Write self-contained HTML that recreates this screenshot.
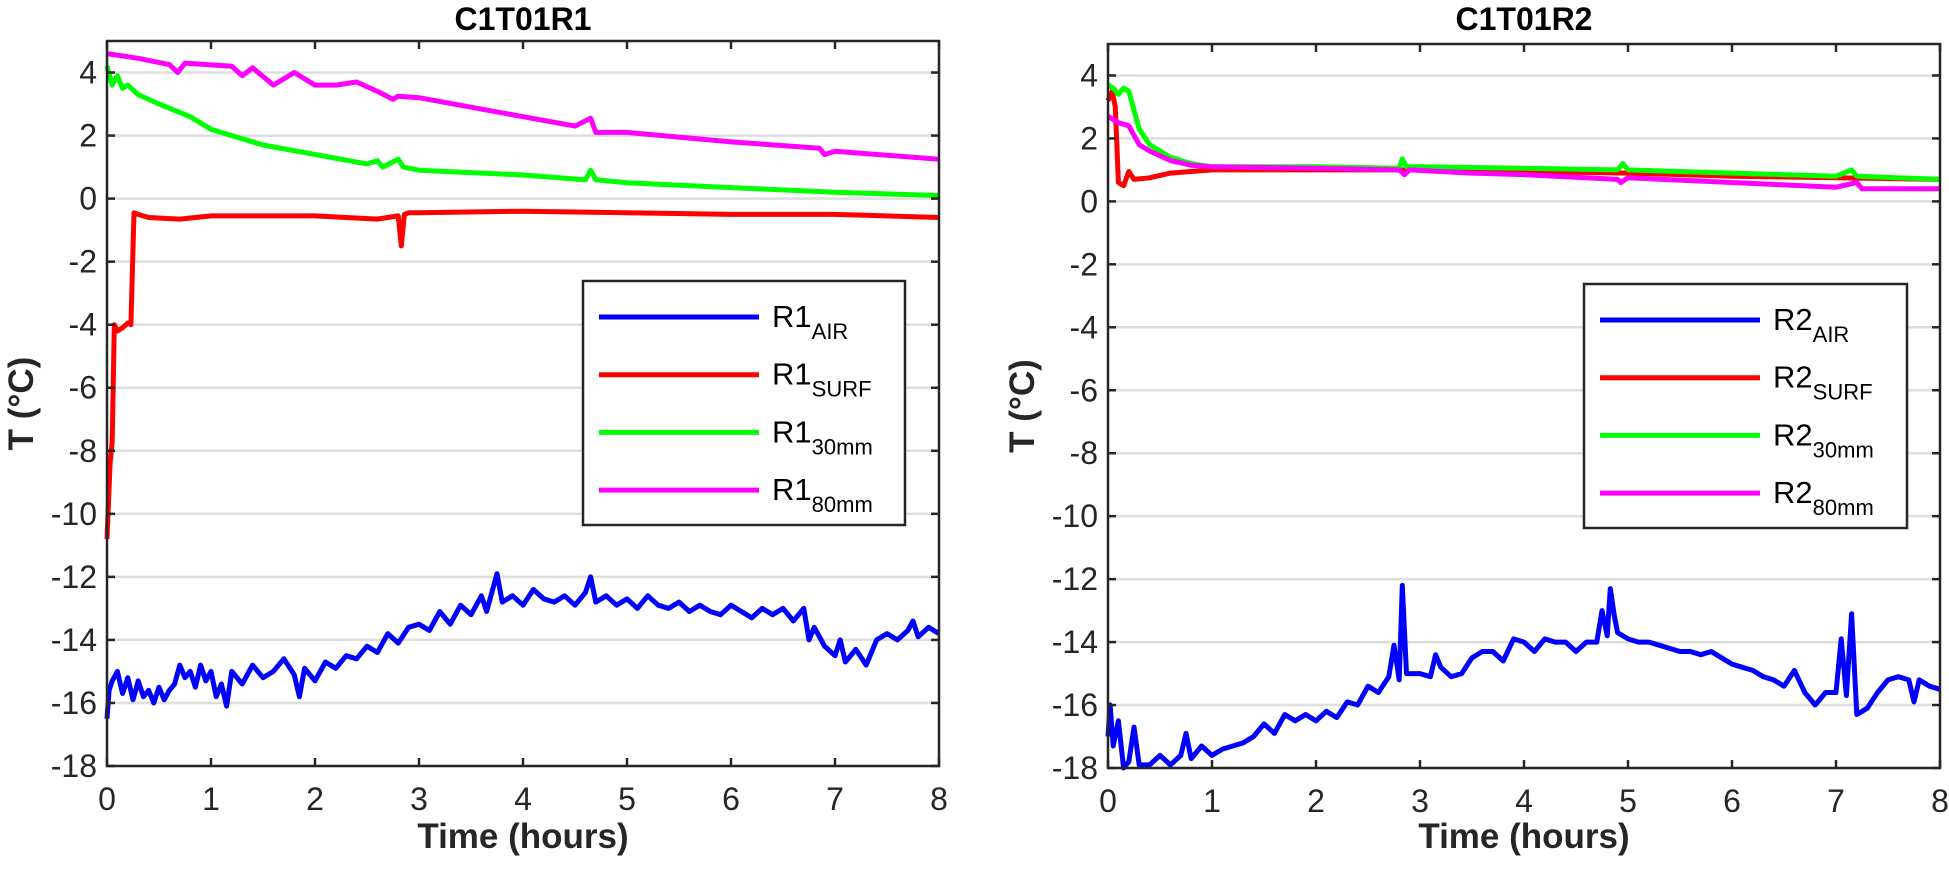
<!DOCTYPE html>
<html><head><meta charset="utf-8"><style>
body{margin:0;background:#fff;}
svg{display:block;font-family:"Liberation Sans",Arial,sans-serif;}
</style></head><body>
<svg id="fig" width="1949" height="870" viewBox="0 0 1949 870" xmlns="http://www.w3.org/2000/svg"></svg>
<script>
const xTicks=[0,1,2,3,4,5,6,7,8];
const yTicks=[4,2,0,-2,-4,-6,-8,-10,-12,-14,-16,-18];
const seriesNames=["AIR","SURF","30mm","80mm"];
const seriesColors=["#0000ff","#ff0000","#00ff00","#ff00ff"];

// Left panel (R1)
const r1AirT=[0,0.02,0.05,0.1,0.15,0.2,0.25,0.3,0.35,0.4,0.45,0.5,0.55,0.6,0.65,0.7,0.75,0.8,0.85,0.9,0.95,1.0,1.05,1.1,1.15,1.2,1.3,1.4,1.5,1.6,1.7,1.8,1.85,1.9,2.0,2.1,2.2,2.3,2.4,2.5,2.6,2.7,2.8,2.9,3.0,3.1,3.2,3.3,3.4,3.5,3.6,3.65,3.7,3.75,3.8,3.9,4.0,4.1,4.2,4.3,4.4,4.5,4.6,4.65,4.7,4.8,4.9,5.0,5.1,5.2,5.3,5.4,5.5,5.6,5.7,5.8,5.9,6.0,6.1,6.2,6.3,6.4,6.5,6.6,6.7,6.75,6.8,6.9,7.0,7.05,7.1,7.2,7.3,7.4,7.5,7.6,7.7,7.75,7.8,7.9,8.0];
const r1Air=[-16.5,-15.6,-15.3,-15.0,-15.7,-15.2,-15.9,-15.3,-15.8,-15.6,-16.0,-15.5,-15.9,-15.6,-15.4,-14.8,-15.2,-15.0,-15.5,-14.8,-15.3,-15.0,-15.8,-15.4,-16.1,-15.0,-15.4,-14.8,-15.2,-15.0,-14.6,-15.1,-15.8,-14.9,-15.3,-14.7,-14.9,-14.5,-14.6,-14.2,-14.4,-13.8,-14.1,-13.6,-13.5,-13.7,-13.1,-13.5,-12.9,-13.2,-12.6,-13.1,-12.5,-11.9,-12.8,-12.6,-12.9,-12.4,-12.7,-12.8,-12.6,-12.9,-12.5,-12.0,-12.8,-12.6,-12.9,-12.7,-13.0,-12.6,-12.9,-13.0,-12.8,-13.1,-12.9,-13.1,-13.2,-12.9,-13.1,-13.3,-13.0,-13.2,-13.0,-13.4,-13.0,-14.0,-13.6,-14.2,-14.5,-14.0,-14.7,-14.3,-14.8,-14.0,-13.8,-14.0,-13.7,-13.4,-13.9,-13.6,-13.8];
const r1SurfT=[0,0.03,0.05,0.07,0.1,0.15,0.2,0.23,0.26,0.3,0.4,0.7,1,2,2.6,2.8,2.83,2.86,2.9,3,4,5,6,7,8];
const r1Surf=[-10.8,-8.4,-7.7,-4.0,-4.2,-4.1,-3.95,-4.0,-0.45,-0.5,-0.6,-0.65,-0.55,-0.55,-0.65,-0.55,-1.5,-0.5,-0.45,-0.45,-0.4,-0.45,-0.5,-0.5,-0.6];
const r1C30T=[0,0.05,0.1,0.15,0.2,0.3,0.5,0.8,1,1.5,2,2.5,2.6,2.65,2.8,2.85,3,4,4.6,4.65,4.7,5,6,7,8];
const r1C30=[4.2,3.6,3.9,3.5,3.6,3.3,3.0,2.6,2.2,1.7,1.4,1.1,1.2,1.0,1.25,1.0,0.9,0.75,0.6,0.9,0.6,0.5,0.35,0.2,0.1];
const r1C80T=[0,0.3,0.6,0.68,0.75,1.2,1.3,1.4,1.6,1.65,1.8,2.0,2.2,2.4,2.6,2.75,2.8,3,3.5,4,4.5,4.65,4.7,5,6,6.85,6.9,7,8];
const r1C80=[4.6,4.45,4.25,4.0,4.3,4.2,3.9,4.15,3.6,3.7,4.0,3.6,3.6,3.7,3.4,3.15,3.25,3.2,2.9,2.6,2.3,2.55,2.1,2.1,1.8,1.6,1.4,1.5,1.25];

// Right panel (R2)
const r2AirT=[0,0.02,0.05,0.1,0.15,0.2,0.25,0.3,0.4,0.5,0.6,0.7,0.75,0.8,0.9,1.0,1.1,1.2,1.3,1.4,1.5,1.6,1.7,1.8,1.9,2.0,2.1,2.2,2.3,2.4,2.5,2.6,2.7,2.75,2.8,2.83,2.87,3.0,3.1,3.15,3.2,3.3,3.4,3.5,3.6,3.7,3.8,3.9,4.0,4.1,4.2,4.3,4.4,4.5,4.6,4.7,4.75,4.8,4.83,4.87,4.9,5.0,5.1,5.2,5.3,5.4,5.5,5.6,5.7,5.8,5.9,6.0,6.1,6.2,6.3,6.4,6.5,6.6,6.7,6.8,6.9,7.0,7.05,7.1,7.15,7.2,7.3,7.4,7.5,7.6,7.7,7.75,7.8,7.9,8.0];
const r2Air=[-17.0,-16.0,-17.3,-16.5,-18.0,-17.8,-16.7,-17.9,-17.9,-17.6,-17.9,-17.6,-16.9,-17.7,-17.3,-17.6,-17.4,-17.3,-17.2,-17.0,-16.6,-16.9,-16.3,-16.5,-16.3,-16.5,-16.2,-16.4,-15.9,-16.0,-15.4,-15.6,-15.1,-14.1,-15.2,-12.2,-15.0,-15.0,-15.1,-14.4,-14.8,-15.1,-15.0,-14.5,-14.3,-14.3,-14.6,-13.9,-14.0,-14.3,-13.9,-14.0,-14.0,-14.3,-14.0,-14.0,-13.0,-13.8,-12.3,-13.2,-13.7,-13.9,-14.0,-14.0,-14.1,-14.2,-14.3,-14.3,-14.4,-14.3,-14.5,-14.7,-14.8,-14.9,-15.1,-15.2,-15.4,-14.9,-15.6,-16.0,-15.6,-15.6,-13.9,-15.7,-13.1,-16.3,-16.1,-15.6,-15.2,-15.1,-15.2,-15.9,-15.2,-15.4,-15.5];
const r2SurfT=[0,0.04,0.07,0.1,0.15,0.2,0.25,0.4,0.6,1,2,3,4,5,6,7,8];
const r2Surf=[3.2,3.5,3.0,0.6,0.5,0.95,0.7,0.75,0.9,1.0,1.0,1.0,0.95,0.9,0.8,0.75,0.7];
const r2C30T=[0,0.05,0.1,0.15,0.2,0.3,0.4,0.6,0.8,1,2,2.8,2.83,2.87,3,4,4.9,4.95,5,6,7,7.15,7.2,8];
const r2C30=[3.7,3.6,3.4,3.6,3.5,2.3,1.8,1.4,1.2,1.1,1.1,1.05,1.35,1.1,1.1,1.05,1.0,1.2,1.0,0.9,0.8,1.0,0.8,0.7];
const r2C80T=[0,0.1,0.2,0.3,0.4,0.6,0.8,1,2,2.8,2.85,2.9,3.5,4,4.9,4.93,5,6,7,7.2,7.25,8];
const r2C80=[2.7,2.5,2.4,1.8,1.6,1.3,1.15,1.1,1.05,1.0,0.85,1.0,0.9,0.85,0.7,0.6,0.75,0.6,0.45,0.6,0.4,0.4];

const NS="http://www.w3.org/2000/svg";
const svg=document.getElementById('fig');
function mk(tag,attrs,parent){const e=document.createElementNS(NS,tag);for(const k in attrs)e.setAttribute(k,attrs[k]);(parent||svg).appendChild(e);return e;}

function panel(cfg){
  const g=mk('g',{});
  
  
  const xs=t=>cfg.x0+(t-0)/8*(cfg.x1-cfg.x0);
  const ys=v=>cfg.y0+(5-v)/23*(cfg.y1-cfg.y0);
  yTicks.forEach(v=>{
    const l=mk('line',{x1:cfg.x0,x2:cfg.x1,y1:ys(v),y2:ys(v),stroke:'#dedede','stroke-width':2.5},g);
    
    
  });
  cfg.series.forEach((s,i)=>{
    const d=s.t.map((t,k)=>(k?'L':'M')+xs(t).toFixed(1)+','+ys(s.v[k]).toFixed(1)).join('');
    const p=mk('path',{d:d,fill:'none',stroke:seriesColors[i],'stroke-width':5,'stroke-linejoin':'round'},g);
    
    
  });
  const box=mk('rect',{x:cfg.x0,y:cfg.y0,width:cfg.x1-cfg.x0,height:cfg.y1-cfg.y0,fill:'none',stroke:'#262626','stroke-width':2.5},g);
  
  
  xTicks.forEach(t=>{
    mk('line',{x1:xs(t),x2:xs(t),y1:cfg.y1,y2:cfg.y1-8,stroke:'#262626','stroke-width':2.5},g);
    mk('line',{x1:xs(t),x2:xs(t),y1:cfg.y0,y2:cfg.y0+8,stroke:'#262626','stroke-width':2.5},g);
    const tx=mk('text',{x:xs(t),y:cfg.y1+44,'text-anchor':'middle','font-size':32,fill:'#262626'},g);
    tx.textContent=t;
    
    
  });
  yTicks.forEach(v=>{
    mk('line',{x1:cfg.x0,x2:cfg.x0+8,y1:ys(v),y2:ys(v),stroke:'#262626','stroke-width':2.5},g);
    mk('line',{x1:cfg.x1,x2:cfg.x1-8,y1:ys(v),y2:ys(v),stroke:'#262626','stroke-width':2.5},g);
    const tx=mk('text',{x:cfg.x0-10,y:ys(v)+11,'text-anchor':'end','font-size':32,fill:'#262626'},g);
    tx.textContent=v;
    
    
  });
  const title=mk('text',{x:(cfg.x0+cfg.x1)/2,y:30,'text-anchor':'middle','font-size':32,'font-weight':'bold',fill:'#000'},g);
  title.textContent=cfg.title;
  
  
  const xl=mk('text',{x:(cfg.x0+cfg.x1)/2,y:848,'text-anchor':'middle','font-size':35,'font-weight':'bold',fill:'#262626'},g);
  xl.textContent='Time (hours)';
  
  
  const yc=(cfg.y0+cfg.y1)/2;
  const yl=mk('text',{x:cfg.x0-74,y:yc,'text-anchor':'middle','font-size':35,'font-weight':'bold',fill:'#262626',transform:'rotate(-90 '+(cfg.x0-74)+' '+yc+')'},g);
  yl.textContent='T (°C)';
  
  
  const L=cfg.legend;
  const lg=mk('g',{},g);
  
  
  mk('rect',{x:L.x,y:L.y,width:L.w,height:L.h,fill:'#fff',stroke:'#262626','stroke-width':2.5},lg);
  seriesNames.forEach((n,i)=>{
    const yy=L.y+36+i*57.7;
    const e=mk('g',{},lg);
    
    
    mk('line',{x1:L.x+16,x2:L.x+176,y1:yy,y2:yy,stroke:seriesColors[i],'stroke-width':5},e);
    const t=mk('text',{x:L.x+189,y:yy+10,'font-size':31,fill:'#000'},e);
    t.textContent=cfg.prefix;
    const s=mk('tspan',{dy:12,'font-size':22},t);
    s.textContent=n;
  });
}

panel({id:'left',title:'C1T01R1',prefix:'R1',x0:107,x1:939,y0:41,y1:766,
  legend:{x:583,y:281,w:322,h:244},
  series:[{t:r1AirT,v:r1Air},{t:r1SurfT,v:r1Surf},{t:r1C30T,v:r1C30},{t:r1C80T,v:r1C80}]});
panel({id:'right',title:'C1T01R2',prefix:'R2',x0:1108,x1:1940,y0:44,y1:768,
  legend:{x:1584,y:284,w:323,h:244},
  series:[{t:r2AirT,v:r2Air},{t:r2SurfT,v:r2Surf},{t:r2C30T,v:r2C30},{t:r2C80T,v:r2C80}]});
</script>
</body></html>
